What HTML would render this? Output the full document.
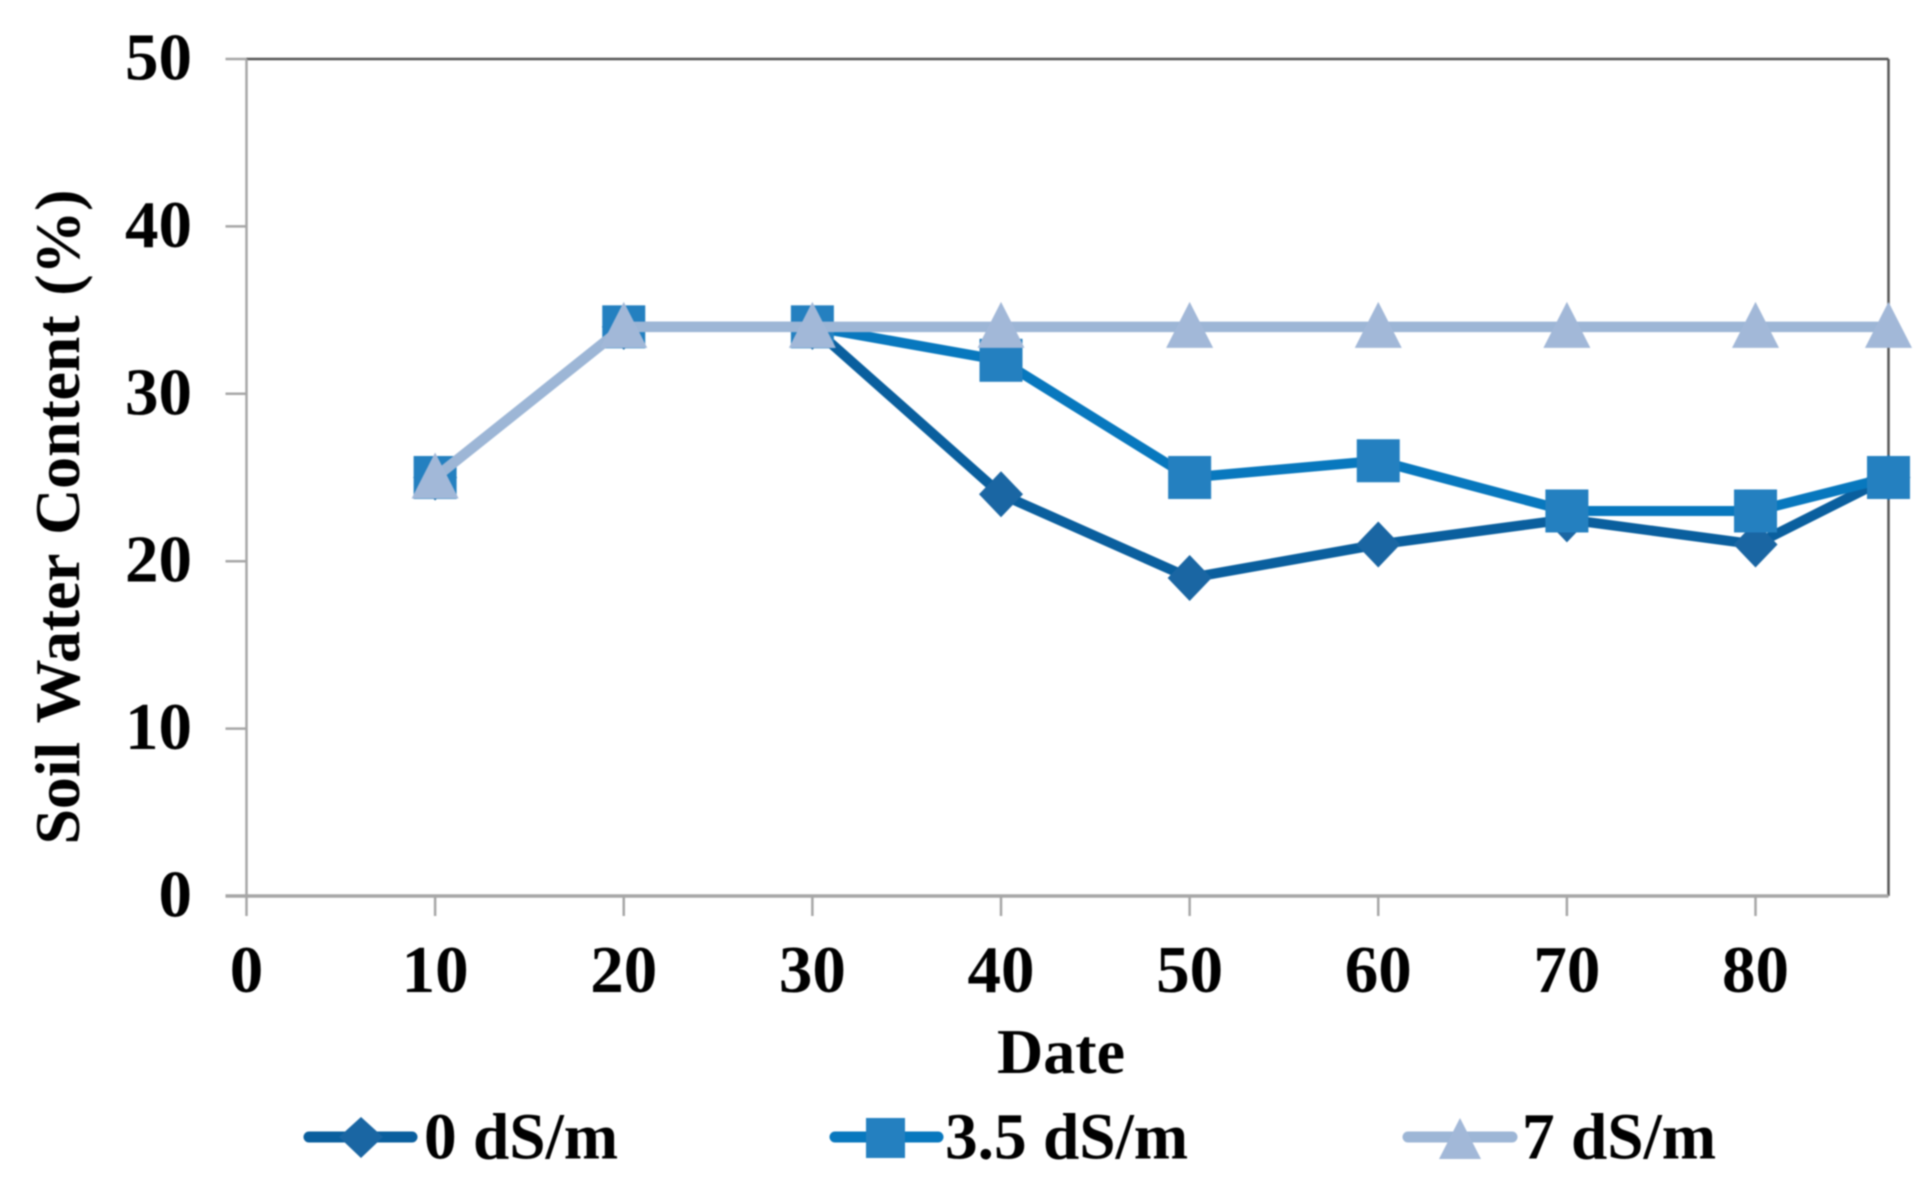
<!DOCTYPE html>
<html>
<head>
<meta charset="utf-8">
<title>Soil Water Content</title>
<style>
html,body{margin:0;padding:0;background:#fff;}
svg{display:block;filter:blur(0.8px);}
text{font-family:"Liberation Serif",serif;font-weight:bold;fill:#000;font-size:67px;}
</style>
</head>
<body>
<svg id="chart" width="1919" height="1185" viewBox="0 0 1919 1185" xmlns="http://www.w3.org/2000/svg">
  <rect width="1919" height="1185" fill="#fff"/>
  <text transform="translate(79,517) rotate(-90)" text-anchor="middle" textLength="655" lengthAdjust="spacing" style="font-size:64px;word-spacing:4px">Soil Water Content (%)</text>
  <text x="1061" y="1073" text-anchor="middle" style="font-size:64px">Date</text>
  <g>
    <g>
      <line x1="309" y1="1137" x2="412" y2="1137" stroke="#0a5f9e" stroke-width="11" stroke-linecap="round"/>
      <polygon points="361,1117 383,1137 361,1158 339,1137" fill="#1a66a3"/>
      <text x="424" y="1158.5" style="font-size:65.3px">0 dS/m</text>
    </g>
    <g>
      <line x1="835" y1="1137" x2="938" y2="1137" stroke="#0878be" stroke-width="11" stroke-linecap="round"/>
      <rect x="866" y="1118" width="39" height="40" fill="#2480c0"/>
      <text x="945" y="1158.5" style="font-size:65.3px">3.5 dS/m</text>
    </g>
    <g>
      <line x1="1408" y1="1137" x2="1512" y2="1137" stroke="#9db6d6" stroke-width="11" stroke-linecap="round"/>
      <polygon points="1460,1118 1481,1159 1439,1159" fill="#a2b8d8"/>
      <text x="1522" y="1158.5" style="font-size:65.3px">7 dS/m</text>
    </g>
  </g>
  <g id="axes"></g>
  <g id="series"></g>
</svg>
<script>
const xValues = [10, 20, 30, 40, 50, 60, 70, 80, 87.05];
const soil0 = [25, 34, 34, 24, 19, 21, 22.5, 21, 25];
const soil35 = [25, 34, 34, 32, 25, 26, 23, 23, 25];
const soil7 = [25, 34, 34, 34, 34, 34, 34, 34, 34];
const xTicks = [0, 10, 20, 30, 40, 50, 60, 70, 80];
const yTicks = [0, 10, 20, 30, 40, 50];
const xMax = 87.05;
const yMax = 50;

const NS = 'http://www.w3.org/2000/svg';
const axes = document.getElementById('axes');
const seriesLayer = document.getElementById('series');
const plot = {left: 246.5, right: 1888.5, top: 59, bottom: 896};

function xScale(v) { return plot.left + (v / xMax) * (plot.right - plot.left); }
function yScale(v) { return plot.bottom - (v / yMax) * (plot.bottom - plot.top); }

function make(tag, parent, attrs) {
  const el = document.createElementNS(NS, tag);
  for (const k in attrs) el.setAttribute(k, attrs[k]);
  parent.appendChild(el);
  return el;
}

const gray = '#a6a6a6';
const dark = '#555555';

const topBorder = make('line', axes, {x1: plot.left, y1: plot.top, x2: plot.right, y2: plot.top, stroke: dark, 'stroke-width': 2.5});


const rightBorder = make('line', axes, {x1: plot.right, y1: plot.top, x2: plot.right, y2: plot.bottom, stroke: dark, 'stroke-width': 2.5});


const yAxisLine = make('line', axes, {x1: plot.left, y1: plot.top, x2: plot.left, y2: plot.bottom, stroke: gray, 'stroke-width': 2.5});


const xAxisLine = make('line', axes, {x1: plot.left - 21, y1: plot.bottom, x2: plot.right, y2: plot.bottom, stroke: gray, 'stroke-width': 3.5});



yTicks.forEach(function (v) {
  const y = yScale(v);
  const tick = make('line', axes, {x1: plot.left - 21, y1: y, x2: plot.left, y2: y, stroke: gray, 'stroke-width': 2.5});
  
  
  const label = make('text', axes, {x: 192, y: y + 20.5, 'text-anchor': 'end'});
  
  
  label.textContent = v;
});

xTicks.forEach(function (v) {
  const x = xScale(v);
  const tick = make('line', axes, {x1: x, y1: plot.bottom, x2: x, y2: plot.bottom + 20, stroke: gray, 'stroke-width': 2.5});
  
  
  const label = make('text', axes, {x: x, y: 992, 'text-anchor': 'middle'});
  
  
  label.textContent = v;
});

function drawLine(values, color, width, name) {
  const pts = values.map(function (v, i) { return xScale(xValues[i]) + ',' + yScale(v); }).join(' ');
  const line = make('polyline', seriesLayer, {points: pts, fill: 'none', stroke: color, 'stroke-width': width, 'stroke-linejoin': 'round'});
  
  
}

function drawDiamonds(values, color) {
  values.forEach(function (v, i) {
    const x = xScale(xValues[i]);
    const y = yScale(v);
    const p = make('polygon', seriesLayer, {points: x + ',' + (y - 23) + ' ' + (x + 22) + ',' + y + ' ' + x + ',' + (y + 23) + ' ' + (x - 22) + ',' + y, fill: color});
    
    
  });
}

function drawSquares(values, color) {
  values.forEach(function (v, i) {
    const x = xScale(xValues[i]);
    const y = yScale(v);
    const p = make('rect', seriesLayer, {x: x - 21.5, y: y - 21.5, width: 43, height: 43, fill: color});
    
    
  });
}

function drawTriangles(values, color) {
  values.forEach(function (v, i) {
    const x = xScale(xValues[i]);
    const y = yScale(v);
    const p = make('polygon', seriesLayer, {points: x + ',' + (y - 25) + ' ' + (x + 23.5) + ',' + (y + 21) + ' ' + (x - 23.5) + ',' + (y + 21), fill: color});
    
    
  });
}

drawLine(soil0, '#0a5f9e', 10, 'line-0-ds-m');
drawDiamonds(soil0, '#1a66a3');
drawLine(soil35, '#0878be', 10, 'line-3-5-ds-m');
drawSquares(soil35, '#2480c0');
drawLine(soil7, '#9db6d6', 10.5, 'line-7-ds-m');
drawTriangles(soil7, '#a2b8d8');
</script>
</body>
</html>
